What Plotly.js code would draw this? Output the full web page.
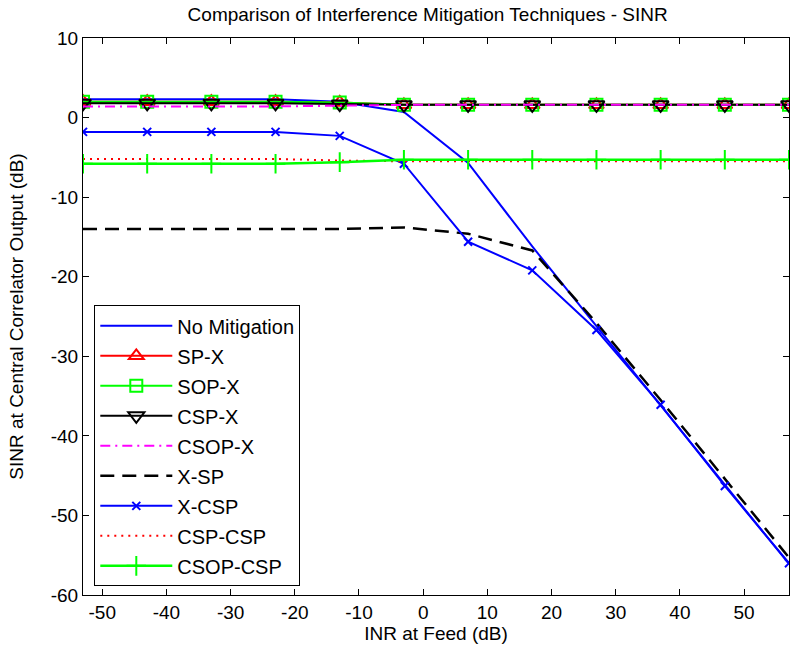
<!DOCTYPE html>
<html>
<head>
<meta charset="utf-8">
<script src="https://cdn.plot.ly/plotly-3.0.1.min.js"></script>
<style>html,body{margin:0;padding:0;background:#fff;}#chart{width:792px;height:655px;}</style>
</head>
<body>
<div id="chart"></div>
<script>
// INR at feed (dB)
var inr = [-53, -43, -33, -23, -13, -3, 7, 17, 27, 37, 47, 57];
// SINR at central correlator output (dB)
var noMitigation = [2.3, 2.3, 2.3, 2.3, 2.0, 0.7, -5.7, -16.2, -26.2, -36.2, -46.1, -56.1];
var spX          = [2.0, 2.0, 2.0, 2.0, 1.9, 1.6, 1.6, 1.6, 1.6, 1.6, 1.6, 1.6];
var sopX         = [2.0, 2.0, 2.0, 2.0, 1.9, 1.6, 1.6, 1.6, 1.6, 1.6, 1.6, 1.6];
var cspX         = [1.8, 1.8, 1.8, 1.8, 1.7, 1.6, 1.6, 1.6, 1.6, 1.6, 1.6, 1.6];
var csopX        = [1.4, 1.4, 1.4, 1.4, 1.5, 1.6, 1.6, 1.6, 1.6, 1.6, 1.6, 1.6];
var xSP          = [-14.0, -14.0, -14.0, -14.0, -14.0, -13.8, -14.6, -16.7, -25.8, -35.5, -45.4, -55.3];
var xCSP         = [-1.8, -1.8, -1.8, -1.8, -2.3, -5.8, -15.6, -19.2, -26.7, -36.1, -46.3, -56.0];
var cspCSP       = [-5.2, -5.2, -5.2, -5.2, -5.4, -5.5, -5.5, -5.5, -5.5, -5.5, -5.5, -5.5];
var csopCSP      = [-5.8, -5.8, -5.8, -5.8, -5.6, -5.3, -5.3, -5.3, -5.3, -5.3, -5.3, -5.3];

var xTicks = [-50, -40, -30, -20, -10, 0, 10, 20, 30, 40, 50];
var yTicks = [10, 0, -10, -20, -30, -40, -50, -60];

function tr(name, y, color, dash, width, symbol, msize) {
  var t = {
    x: inr, y: y, name: name, type: 'scatter', legendgroup: name,
    mode: symbol ? 'lines+markers' : 'lines',
    line: {color: color, width: width, dash: dash}
  };
  if (symbol) {
    t.marker = {symbol: symbol, size: msize, color: color, line: {color: color, width: 2}};
  }
  return t;
}

var data = [
  tr('No Mitigation', noMitigation, '#0000ff', 'solid', 2),
  tr('SP-X', spX, '#ff0000', 'solid', 2, 'triangle-up-open', 13),
  tr('SOP-X', sopX, '#00ff00', 'solid', 2, 'square-open', 12),
  tr('CSP-X', cspX, '#000000', 'solid', 2, 'triangle-down-open', 14),
  tr('CSOP-X', csopX, '#ff00ff', '10px,5px,2px,5px', 2),
  tr('X-SP', xSP, '#000000', '14px,8px', 2.5),
  tr('X-CSP', xCSP, '#0000ff', 'solid', 2, 'x-thin-open', 8),
  tr('CSP-CSP', cspCSP, '#ff0000', '2px,5px', 2),
  tr('CSOP-CSP', csopCSP, '#00ff00', 'solid', 2.5, 'cross-thin-open', 14)
];

var tickFont = {family: 'Liberation Sans, Arial, sans-serif', size: 19, color: '#000'};

var layout = {
  width: 792, height: 655,
  margin: {l: 83, r: 3, t: 38, b: 60, pad: 0},
  paper_bgcolor: '#fff', plot_bgcolor: '#fff',
  showlegend: true,
  title: {text: 'Comparison of Interference Mitigation Techniques - SINR',
          font: {family: 'Liberation Sans, Arial, sans-serif', size: 19, color: '#000'},
          x: 0.54, xanchor: 'center', y: 0.988, yanchor: 'top'},
  xaxis: {
    range: [-53, 57], tickvals: xTicks, ticktext: xTicks.map(String),
    ticks: 'inside', ticklen: 6, tickcolor: '#000', tickwidth: 1,
    showline: true, linecolor: '#000', linewidth: 1, mirror: 'ticks',
    showgrid: false, zeroline: false, tickfont: tickFont,
    title: {text: 'INR at Feed (dB)', font: tickFont, standoff: 4}
  },
  yaxis: {
    range: [-60, 10], tickvals: yTicks, ticktext: yTicks.map(String),
    ticks: 'inside', ticklen: 6, tickcolor: '#000', tickwidth: 1,
    showline: true, linecolor: '#000', linewidth: 1, mirror: 'ticks',
    showgrid: false, zeroline: false, tickfont: tickFont,
    title: {text: 'SINR at Central Correlator Output (dB)', font: tickFont, standoff: 22}
  },
  legend: {
    x: 0.016, y: 0.52, xanchor: 'left', yanchor: 'top',
    bgcolor: '#fff', bordercolor: '#000', borderwidth: 1,
    font: {family: 'Liberation Sans, Arial, sans-serif', size: 20, color: '#000'},
    tracegroupgap: 1, itemwidth: 72
  }
};

Plotly.newPlot('chart', data, layout, {displayModeBar: false, staticPlot: true});
</script>
</body>
</html>
